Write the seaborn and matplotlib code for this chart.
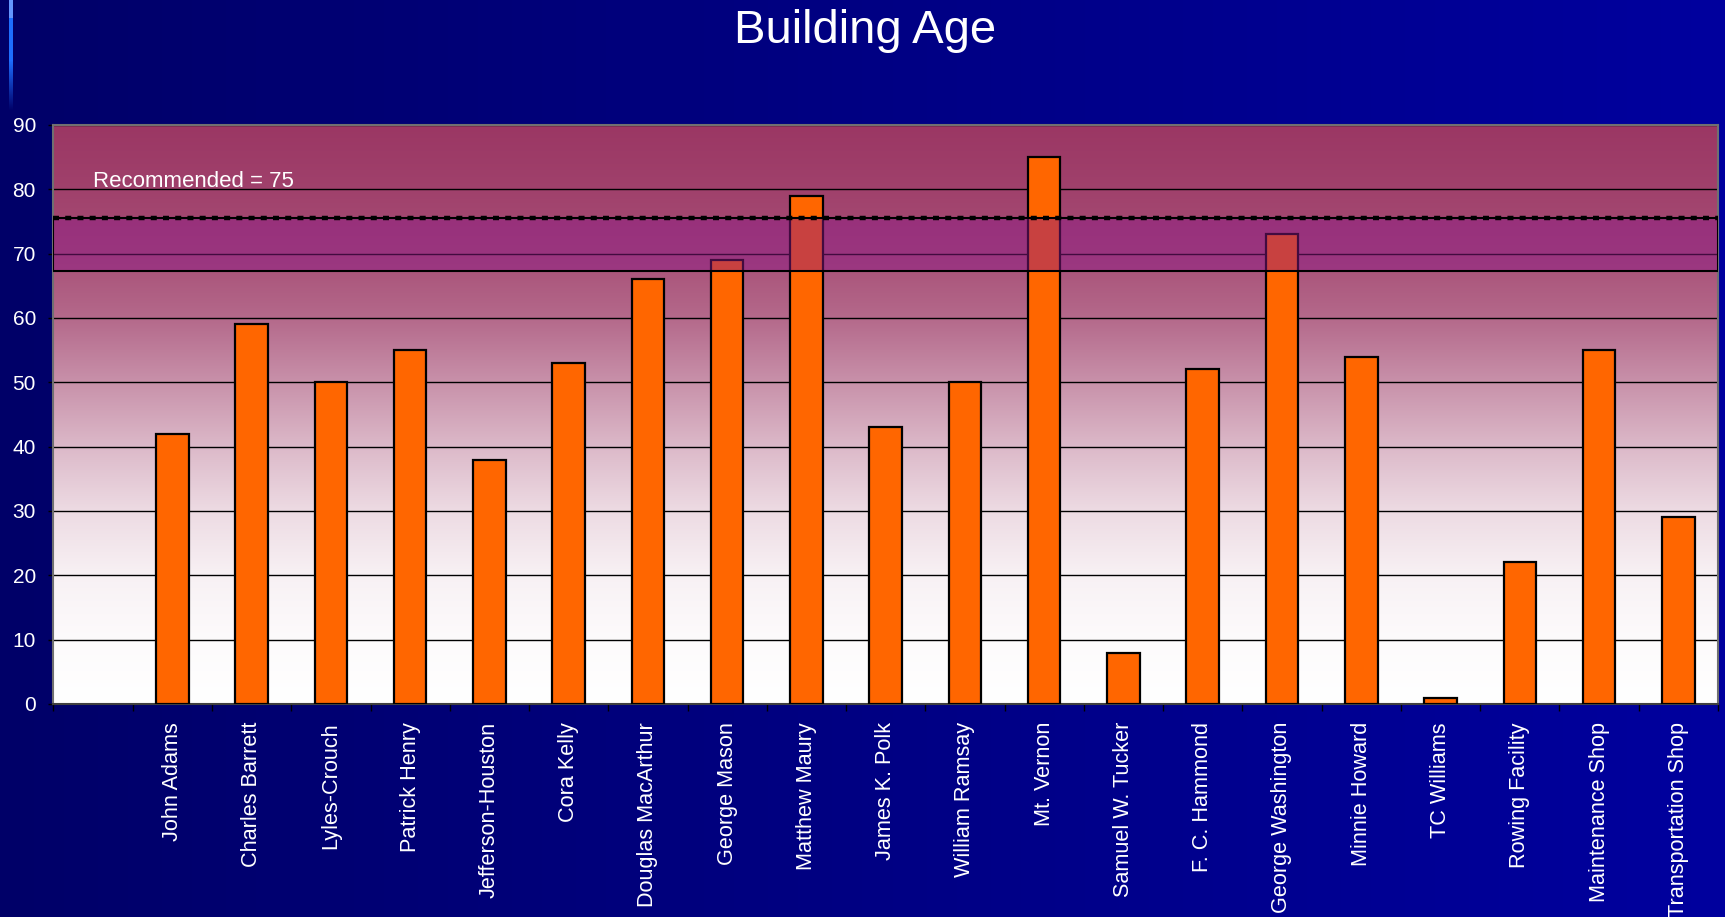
import numpy as np
import pandas as pd
import seaborn as sns
import matplotlib
matplotlib.use("Agg")
import matplotlib.pyplot as plt

sns.set_style("ticks")
plt.rcParams['font.family'] = ['Liberation Sans', 'DejaVu Sans']

# data
buildings = ["John Adams", "Charles Barrett", "Lyles-Crouch", "Patrick Henry",
             "Jefferson-Houston", "Cora Kelly", "Douglas MacArthur", "George Mason",
             "Matthew Maury", "James K. Polk", "William Ramsay", "Mt. Vernon",
             "Samuel W. Tucker", "F. C. Hammond", "George Washington", "Minnie Howard",
             "TC Williams", "Rowing Facility", "Maintenance Shop", "Transportation Shop"]
ages = [42, 59, 50, 55, 38, 53, 66, 69, 79, 43, 50, 85, 8, 52, 73, 54, 1, 22, 55, 29]
y_ticks = [0, 10, 20, 30, 40, 50, 60, 70, 80, 90]
recommended_label = "Recommended = 75"
recommended_line = 75.6
band_low, band_high = 67.3, 75.5

df = pd.DataFrame({"building": buildings, "age": ages})

fig = plt.figure(figsize=(17.25, 9.17), dpi=100)

# dark blue slide background, lighter to the right
bg = fig.add_axes([0, 0, 1, 1], zorder=-10)
h = np.linspace(0, 1, 512)
grad = np.zeros((1, 512, 3))
grad[0, :, 2] = (104 + (158 - 104) * h) / 255
bg.imshow(grad, aspect='auto', extent=[0, 1, 0, 1])
# thin light-blue stripe at the top left
n = 110
stripe = np.zeros((n, 1, 4))
for i in range(n):
    if i < 18:
        stripe[i, 0] = [100 / 255, 150 / 255, 1, 1]
    else:
        a = 1 if i < 60 else max(0, 1 - (i - 60) / 50)
        stripe[i, 0] = [30 / 255, 110 / 255, 1, a]
bg.imshow(stripe, aspect='auto', extent=[9 / 1725, 13 / 1725, 1 - n / 917, 1], origin='upper')
bg.set_xlim(0, 1)
bg.set_ylim(0, 1)
bg.axis('off')

ax = fig.add_axes([0.0310, 0.2323, 0.9649, 0.6314])
ax.set_facecolor('none')

# plot area gradient: rose at top fading to white
t = np.linspace(0, 1, 512)
f = np.interp(t, [0, 0.111, 0.222, 0.333, 0.444, 0.556, 0.667, 0.778, 0.889, 1.0],
              [0, 0.02, 0.07, 0.18, 0.35, 0.55, 0.75, 0.88, 0.95, 1.0])
top = np.array([155, 55, 100]) / 255
pg = np.ones((512, 1, 3)) + (top - 1)[None, None, :] * f[:, None, None]
ax.imshow(pg, aspect='auto', extent=[-1.5, 19.5, 0, 90], origin='lower', zorder=0)

sns.barplot(data=df, x="building", y="age", ax=ax, color="#FF6600", saturation=1,
            width=0.41, edgecolor="black", linewidth=1.6, errorbar=None, zorder=3)

ax.set_xlim(-1.5, 19.5)
ax.set_ylim(0, 90)
ax.set_yticks(y_ticks)
ax.set_xticks(range(len(buildings)))
ax.set_xticklabels(buildings, rotation=90, ha='center', va='top')
ax.set_xticks(np.arange(-1.5, 20, 1), minor=True)
ax.set_xlabel('')
ax.set_ylabel('')

ax.set_axisbelow(True)
ax.yaxis.grid(True, color='black', lw=1)
ax.xaxis.grid(False)

# recommended band and dotted line
ax.axhspan(band_low, band_high, facecolor=(140 / 255, 25 / 255, 135 / 255, 0.48),
           edgecolor='black', lw=1.5, zorder=4)
ax.axhline(recommended_line, color='black', lw=3.2, linestyle=(0, (1.35, 1.4)), zorder=5)
ax.text(-1.0, 80.3, recommended_label, color='white', fontsize=16, va='baseline', zorder=6)

ax.tick_params(axis='y', which='major', length=3.6, width=1, color='black',
               labelcolor='white', labelsize=15, pad=9)
ax.tick_params(axis='x', which='major', length=0, labelcolor='white', labelsize=15.6, pad=13)
ax.tick_params(axis='x', which='minor', length=5, width=1, color='black')

for s in ['left', 'top', 'right']:
    ax.spines[s].set_color('#707070')
    ax.spines[s].set_linewidth(1.5)
ax.spines['bottom'].set_color('#404040')
ax.spines['bottom'].set_linewidth(1.5)

fig.text(865 / 1725, 0.9528, "Building Age", ha='center', va='baseline',
         fontsize=34, color='white')

fig.savefig("out.png", dpi=100)
